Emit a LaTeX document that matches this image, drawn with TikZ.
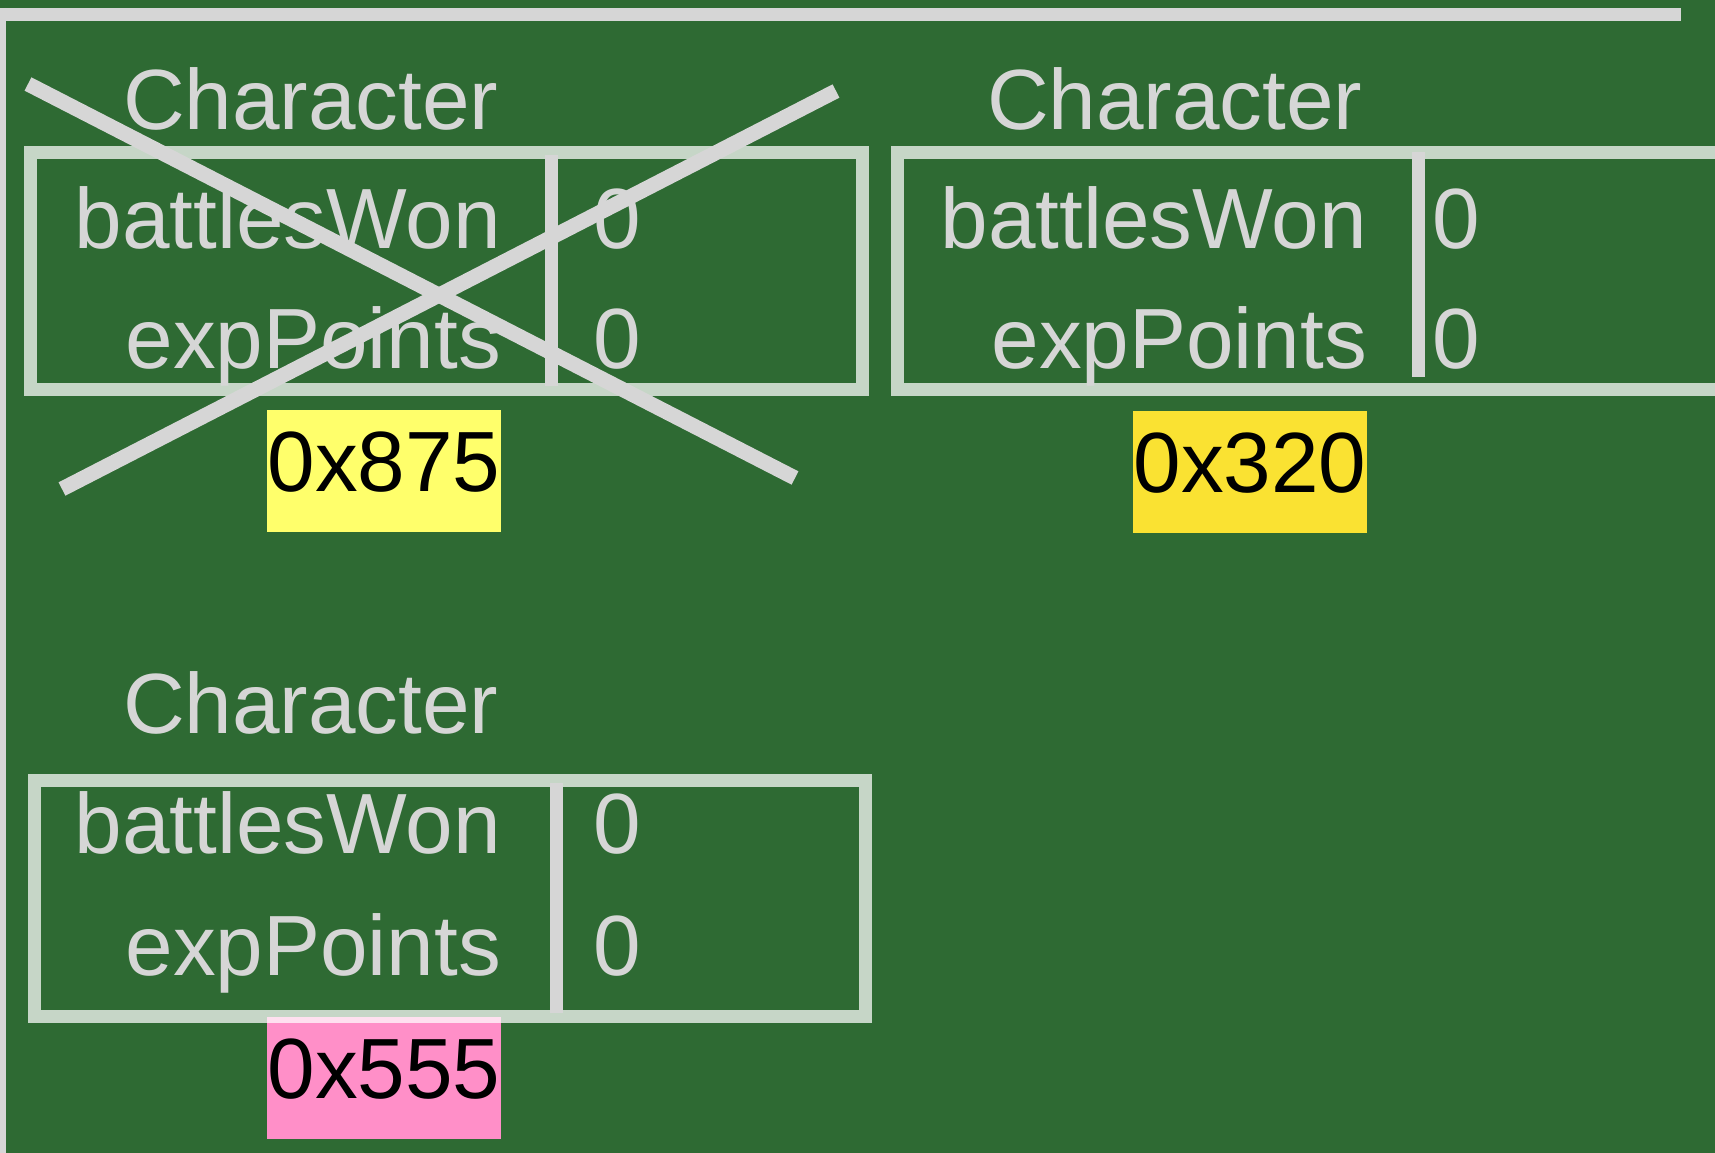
\documentclass[tikz,border=0pt]{standalone}
\usepackage{fontspec}
\setmainfont{Liberation Sans}
\definecolor{board}{RGB}{46,106,51}
\definecolor{chalk}{RGB}{214,214,214}
\definecolor{hexyellow}{RGB}{255,255,107}
\definecolor{hexgold}{RGB}{250,226,50}
\definecolor{hexpink}{RGB}{255,143,200}
\begin{document}
\begin{tikzpicture}[x=1pt,y=-1pt,
  txt/.style={text=chalk, font=\fontsize{85.5}{100}\selectfont, inner sep=0pt, outer sep=0pt},
  frame/.style={draw=white, draw opacity=0.73, line width=13pt},
  divider/.style={draw=chalk, line width=13pt},
  cross/.style={draw=chalk, line width=15pt},
  rule/.style={draw=chalk, line width=13.5pt},
  hex/.style={inner sep=0pt, outer sep=0pt, text=black, font=\fontsize{85.5}{100}\selectfont,
    minimum width=234pt, text width=234pt, align=center, text height=81pt, text depth=41pt, anchor=base},
]
\fill[board] (0,0) rectangle (1715,1153);
\useasboundingbox (0,0) rectangle (1715,1153);
\clip (0,0) rectangle (1715,1153);

% frame lines of the board
\coordinate (topL) at (0,14.5);
\coordinate (topR) at (1681,14.5);
\coordinate (leftT) at (3,8);
\coordinate (leftB) at (3,1153);
\draw[rule] (topL) -- (topR);
\draw[chalk, line width=6pt] (leftT) -- (leftB);

% address tags
\node[hex, fill=hexyellow] (h875) at (384,491) {0x875};
\node[hex, fill=hexgold] (h320) at (1250,492) {0x320};
\node[hex, fill=hexpink] (h555) at (384,1098) {0x555};

% boxes
\draw[frame] (30,152) rectangle (862,389);
\draw[frame] (897,152) rectangle (1740,389);
\draw[frame] (34,780) rectangle (865,1016);

% dividers
\coordinate (dAt) at (551.5,155); \coordinate (dAb) at (551.5,386);
\coordinate (dBt) at (1418,152);  \coordinate (dBb) at (1418,377);
\coordinate (dCt) at (556.5,783); \coordinate (dCb) at (556.5,1013);
\draw[divider] (dAt) -- (dAb);
\draw[divider] (dBt) -- (dBb);
\draw[divider] (dCt) -- (dCb);

% box A
\node[txt, anchor=base west] (tA) at (123,129) {Character};
\node[txt, anchor=base east] (bwA) at (501,248) {battlesWon};
\node[txt, anchor=base east] (epA) at (501,368) {expPoints};
\node[txt, anchor=base west] (v1A) at (593,248) {0};
\node[txt, anchor=base west] (v2A) at (593,368) {0};

% box B
\node[txt, anchor=base west] (tB) at (987,129) {Character};
\node[txt, anchor=base east] (bwB) at (1367,248) {battlesWon};
\node[txt, anchor=base east] (epB) at (1367,368) {expPoints};
\node[txt, anchor=base west] (v1B) at (1432,248) {0};
\node[txt, anchor=base west] (v2B) at (1432,368) {0};

% box C
\node[txt, anchor=base west] (tC) at (123,733) {Character};
\node[txt, anchor=base east] (bwC) at (501,853) {battlesWon};
\node[txt, anchor=base east] (epC) at (501,975) {expPoints};
\node[txt, anchor=base west] (v1C) at (593,853) {0};
\node[txt, anchor=base west] (v2C) at (593,975) {0};

% cross over box A
\coordinate (x1a) at (28,84);  \coordinate (x1b) at (795,478);
\coordinate (x2a) at (62,489); \coordinate (x2b) at (836,91);
\draw[cross] (x1a) -- (x1b);
\draw[cross] (x2a) -- (x2b);
\end{tikzpicture}
\end{document}
